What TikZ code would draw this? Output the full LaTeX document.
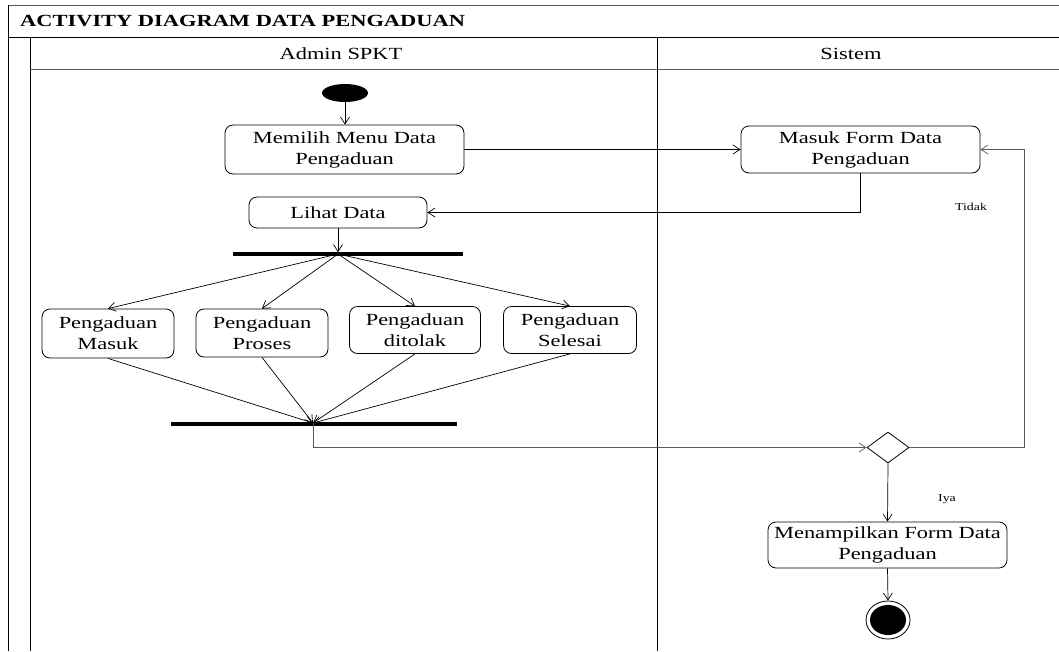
\documentclass[tikz,border=0pt]{standalone}
\usepackage{fontspec}
\setmainfont{Liberation Serif}[FakeStretch=1.32]
\usetikzlibrary{arrows.meta,shapes.geometric}

\begin{document}
\begin{tikzpicture}[x=1pt,y=-1pt,
  txt/.style={font=\fontsize{17}{21}\selectfont},
  small/.style={font=\fontsize{10.5}{12}\selectfont},
  act/.style={txt,draw,rounded corners=8pt,align=center,inner sep=0pt,line width=0.8pt},
  bar/.style={fill=black,inner sep=0pt,minimum height=3.2pt},
  flow/.style={line width=0.7pt,-{Straight Barb[length=7pt,width=9pt]}},
  lane/.style={line width=1pt},
  soft/.style={draw=black!65}
]
\useasboundingbox (0,0) rectangle (1059,651);

% swimlane frame
\draw[lane,soft] (8,5) -- (1059,5);
\draw[lane] (8,5) -- (8,651);
\draw[lane] (8,37) -- (1059,37);
\draw[lane] (30,37) -- (30,651);
\draw[lane,soft] (30,69) -- (1059,69);
\draw[lane] (657,37) -- (657,651);

\node[font=\fontsize{17}{21}\selectfont\bfseries,anchor=west,inner sep=0pt] (title) at (20,21) {ACTIVITY DIAGRAM DATA PENGADUAN};
\node[txt,inner sep=0pt] (laneA) at (341,54) {Admin SPKT};
\node[txt,inner sep=0pt] (laneB) at (851,54) {Sistem};

% activities
\node[fill=black,ellipse,minimum width=46pt,minimum height=18pt,inner sep=0pt] (start) at (345,93) {};
\node[act,minimum width=239pt,minimum height=49pt] (memilih) at (344.5,149.5) {Memilih Menu Data\\Pengaduan};
\node[act,minimum width=239pt,minimum height=47pt] (masukform) at (860.5,149.5) {Masuk Form Data\\Pengaduan};
\node[act,minimum width=178pt,minimum height=31pt] (lihat) at (338,212.5) {Lihat Data};
\node[bar,minimum width=230pt] (fork) at (348,254) {};
\coordinate (fo) at (338,254);

\node[act,minimum width=132pt,minimum height=49pt] (pm) at (108,333.5) {Pengaduan\\Masuk};
\node[act,minimum width=132pt,minimum height=48pt] (pp) at (262,333) {Pengaduan\\Proses};
\node[act,minimum width=131pt,minimum height=47pt] (pt) at (415,330) {Pengaduan\\ditolak};
\node[act,minimum width=133pt,minimum height=47pt] (ps) at (570,330) {Pengaduan\\Selesai};

\node[bar,minimum width=286pt] (join) at (314,424) {};
\coordinate (jn) at (313,423);

\node[draw,diamond,line width=0.8pt,minimum width=42pt,minimum height=31pt,inner sep=0pt] (dec) at (888,447.5) {};
\coordinate (lp) at (1024,149.5);
\node[act,minimum width=239pt,minimum height=46pt] (tampil) at (887.5,545) {Menampilkan Form Data\\Pengaduan};
\node[draw,ellipse,line width=0.8pt,minimum width=44pt,minimum height=38pt,inner sep=0pt] (endo) at (888,620) {};
\node[fill=black,ellipse,minimum width=36pt,minimum height=30pt,inner sep=0pt] (endi) at (888,620) {};

\node[small] (tidak) at (971,207) {Tidak};
\node[small] (iya) at (947,499) {Iya};

% connectors
\draw[flow] (start) -- (start |- memilih.north);
\draw[flow] (memilih) -- (masukform);
\draw[flow] (masukform.south) |- (lihat.east);
\draw[flow] (lihat) -- (lihat |- fork.north);
\draw[flow] (fo) -- (pm.north);
\draw[flow] (fo) -- (pp.north);
\draw[flow] (fo) -- (pt.north);
\draw[flow] (fo) -- (ps.north);
\draw[flow] (pm.south) -- (jn);
\draw[flow] (pp.south) -- (jn);
\draw[flow] (pt.south) -- (jn);
\draw[flow] (ps.south) -- (jn);
\draw[flow,draw=black!65] (jn) |- (dec.west);
\draw[flow,draw=black!65] (dec.east) -| (lp) -- (masukform.east);
\draw[flow] (dec.south) -- (tampil.north);
\draw[flow] (tampil.south) -- (endo.north);
\end{tikzpicture}
\end{document}
